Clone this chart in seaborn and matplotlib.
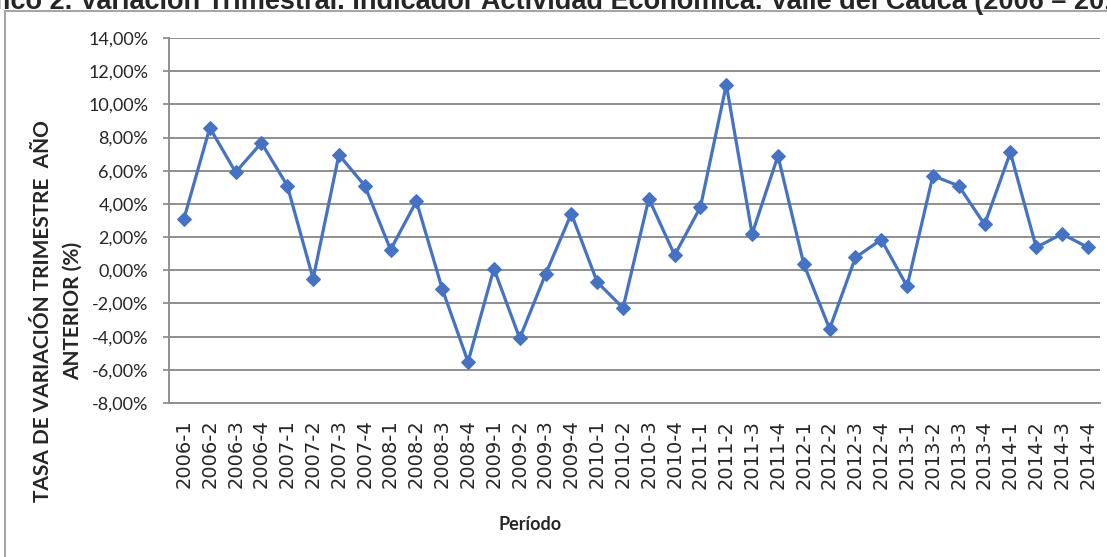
import seaborn as sns
import pandas as pd
import matplotlib.pyplot as plt
from matplotlib.patches import Rectangle
from matplotlib.ticker import FuncFormatter

periodos = ["2006-1", "2006-2", "2006-3", "2006-4",
            "2007-1", "2007-2", "2007-3", "2007-4",
            "2008-1", "2008-2", "2008-3", "2008-4",
            "2009-1", "2009-2", "2009-3", "2009-4",
            "2010-1", "2010-2", "2010-3", "2010-4",
            "2011-1", "2011-2", "2011-3", "2011-4",
            "2012-1", "2012-2", "2012-3", "2012-4",
            "2013-1", "2013-2", "2013-3", "2013-4",
            "2014-1", "2014-2", "2014-3", "2014-4"]

tasa = [3.11, 8.59, 5.91, 7.68,
        5.10, -0.51, 6.96, 5.10,
        1.24, 4.16, -1.12, -5.52,
        0.10, -4.10, -0.24, 3.41,
        -0.71, -2.27, 4.32, 0.91,
        3.82, 11.19, 2.19, 6.90,
        0.37, -3.53, 0.77, 1.85,
        -0.97, 5.70, 5.09, 2.76,
        7.10, 1.38, 2.19, 1.38]

titulo = "Gráfico 2. Variación Trimestral. Indicador Actividad Económica. Valle del Cauca (2006 – 2014)"
etiqueta_y = "TASA DE VARIACIÓN TRIMESTRE  AÑO\nANTERIOR (%)"
etiqueta_x = "Período"

df = pd.DataFrame({"Periodo": periodos, "Tasa": tasa})

sns.set_theme(style="white")
plt.rcParams['font.family'] = ['DejaVu Sans']

W, H = 1107, 557
fig = plt.figure(figsize=(W / 100, H / 100), dpi=100)
ax = fig.add_axes([169 / W, 1 - 403 / H, (1100 - 169) / W, (403 - 38) / H])

sns.lineplot(data=df, x="Periodo", y="Tasa", ax=ax, color="#4472C4",
             linewidth=2.3, marker="D", markersize=7,
             markeredgecolor="#4472C4", sort=False)

ax.set_ylim(-8, 14)
ax.set_yticks(range(-8, 15, 2))
ax.yaxis.set_major_formatter(FuncFormatter(lambda v, p: f"{v:.2f}%".replace(".", ",")))
ax.set_xlim(-0.58, 35.47)
ax.grid(axis='y', color='#8e8e8e', linewidth=1.4)
ax.set_axisbelow(True)
for s in ["top", "right"]:
    ax.spines[s].set_visible(False)
for s in ["left", "bottom"]:
    ax.spines[s].set_color("#8e8e8e")
    ax.spines[s].set_linewidth(1.4)

ax.tick_params(axis='x', rotation=90, length=0, labelsize=14, pad=12)
ax.tick_params(axis='y', left=True, length=4, color='#8e8e8e', width=1.3, pad=11)
for lab in ax.get_yticklabels():
    lab.set_family("Lato")
    lab.set_fontsize(13)
ax.set_xlabel("")
ax.set_ylabel("")

fig.text(530 / W, 1 - 525 / H, etiqueta_x, family="Lato", fontweight="bold",
         fontsize=13, ha="center", va="center")
fig.text(58 / W, 1 - 311 / H, etiqueta_y, family="Lato", fontweight="bold",
         fontsize=15, rotation=90, ha="center", va="center",
         multialignment="center", linespacing=1.6)

fig.text(-53 / W, 1 - 9 / H, titulo, family="Liberation Sans", fontweight="bold",
         fontsize=19.5, ha="left", va="baseline")

fig.patches.append(Rectangle((5 / W, -0.1), 1.2, 1 - 11 / H + 0.1, fill=False,
                             edgecolor="#a6a6a6", linewidth=1.5,
                             transform=fig.transFigure, figure=fig))

fig.savefig("out.png", dpi=100)
